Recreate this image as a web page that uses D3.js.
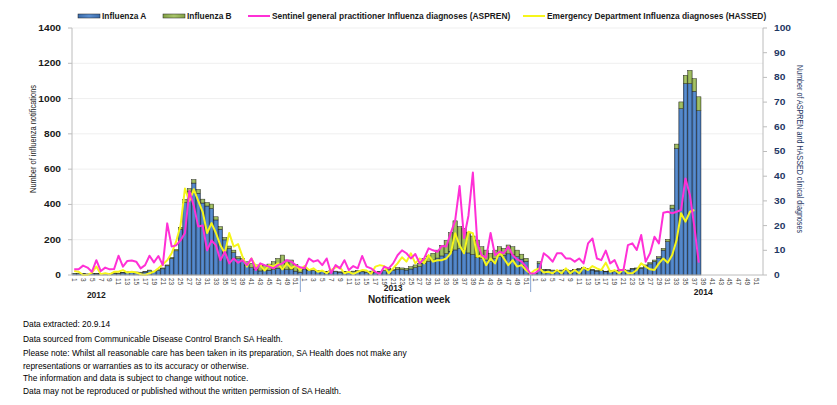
<!DOCTYPE html>
<html>
<head>
<meta charset="utf-8">
<script src="https://cdn.jsdelivr.net/npm/d3@7"></script>
<style>
html, body { margin: 0; padding: 0; background: #fff; }
svg { display: block; font-family: "Liberation Sans", Arial, sans-serif; }
</style>
</head>
<body>
<div id="chart"></div>
<script>
const WIDTH = 837;
const HEIGHT = 405;
const PLOT = { left: 72, right: 763, top: 28, bottom: 275 };

// === DATA ===
const years = ["2012", "2013", "2014"];
const weekTicks = [1, 3, 5, 7, 9, 11, 13, 15, 17, 19, 21, 23, 25, 27, 29, 31, 33, 35, 37, 39, 41, 43, 45, 47, 49, 51];
const leftTicks = [0, 200, 400, 600, 800, 1000, 1200, 1400];
const rightTicks = [0, 10, 20, 30, 40, 50, 60, 70, 80, 90, 100];

// Influenza A notifications by week
const fluA2012 = [8, 7, 6, 5, 7, 6, 8, 7, 8, 10, 9, 12, 15, 13, 14, 13, 17, 24, 19, 26,
    35, 52, 94, 137, 260, 410, 472, 521, 463, 408, 391, 377, 312, 259, 199, 150, 127, 92, 76, 55,
    41, 32, 23, 25, 27, 30, 39, 43, 30, 30, 22, 15];
const fluA2013 = [34, 27, 25, 22, 20, 18, 21, 20, 16, 18, 15, 19, 22, 18, 16, 19, 13, 17, 24, 30,
    26, 33, 30, 28, 34, 42, 48, 66, 76, 85, 96, 108, 121, 135, 142, 149, 142, 125, 116, 98,
    92, 85, 75, 94, 104, 111, 120, 115, 104, 90, 77, 11];
const fluA2014 = [8, 65, 28, 28, 25, 22, 24, 28, 22, 28, 33, 37, 34, 28, 22, 25, 18, 22, 20, 25,
    28, 25, 34, 35, 38, 51, 63, 77, 96, 141, 189, 377, 717, 943, 1085, 1085, 1041, 931];

// Influenza B notifications by week
const fluB2012 = [2, 1, 1, 1, 1, 1, 1, 1, 2, 2, 2, 2, 3, 2, 3, 3, 3, 4, 3, 4,
    5, 5, 6, 8, 10, 18, 18, 20, 22, 22, 20, 25, 18, 15, 14, 14, 14, 12, 18, 20,
    25, 25, 28, 30, 35, 45, 55, 70, 55, 55, 38, 25];
const fluB2013 = [4, 3, 3, 3, 2, 2, 3, 2, 2, 2, 2, 3, 3, 2, 2, 3, 2, 3, 4, 8,
    6, 10, 10, 10, 13, 15, 18, 28, 32, 38, 45, 60, 75, 105, 165, 125, 122, 115, 105, 100,
    68, 56, 48, 47, 56, 40, 50, 45, 37, 28, 18, 4];
const fluB2014 = [2, 10, 4, 4, 3, 3, 4, 4, 3, 4, 5, 5, 4, 4, 3, 3, 3, 3, 3, 3,
    4, 3, 4, 5, 5, 6, 7, 8, 8, 10, 13, 19, 25, 38, 47, 75, 72, 79];

// Sentinel GP influenza diagnoses (ASPREN)
const aspren2012 = [2.3, 2.3, 3.8, 3, 1.3, 6, 1.6, 3, 2.3, 2.4, 7.8, 3.4, 5.7, 5.9, 5.4, 2.7, 4, 7.8, 5.1, 7.7,
    4, 20.9, 11.5, 12, 14, 17, 34, 28, 19.6, 20, 10, 14, 12, 6, 9.4, 4.7, 6.7, 5, 6, 4,
    6.7, 2, 4.7, 4, 3.4, 2.7, 4, 4.7, 6, 5.4, 4, 3.1];
const aspren2013 = [2.7, 6.7, 5.4, 6, 4, 6.7, 0.7, 4, 2.7, 6, 2, 3.6, 2.7, 7.7, 3.4, 2.7, 1.3, 0.4, 3.4, 2.7,
    4.7, 8, 10, 8.8, 6.7, 8.5, 4.7, 6.7, 10.8, 10, 9.4, 11.7, 11.5, 17, 22, 36, 15, 24, 41.5, 13,
    8, 7, 17, 8, 9.4, 8.8, 11.5, 8, 6.3, 5.4, 3.4, 0.5];
const aspren2014 = [0.7, 2, 8.8, 7.4, 5.4, 8.8, 8.8, 6.7, 6.7, 5.4, 6.7, 4.7, 12.8, 14.8, 6.7, 6, 9.9, 4.7, 6, 2,
    2, 12.1, 12.8, 10.1, 16.2, 5.4, 8.8, 15.5, 12.8, 25.2, 25.6, 25, 25.6, 26.3, 39.1, 32.4, 19.6, 5];

// Emergency Department influenza diagnoses (HASSED)
const hassed2012 = [1.6, 1.3, 0, 0, 1, 3.4, 0.3, 0.7, 0.3, 1.3, 1.3, 2, 1, 1.3, 1, 0.3, 0, 0.7, 1.3, 2.7,
    4.3, 6, 8.8, 13.5, 20, 35, 30, 34.7, 30, 25.6, 17, 21, 17, 12, 8.8, 17, 11.5, 12.5, 7.4, 3.4,
    6.7, 3.6, 4, 1.8, 4, 3.4, 4.7, 2.3, 4.7, 2.7, 4, 2];
const hassed2013 = [3.6, 2, 2.7, 1.3, 1.8, 0.7, 2, 3.1, 3.1, 0.7, 1.3, 0.4, 1.3, 2, 1.8, 0.4, 3.4, 4, 3.6, 0.7,
    2.7, 4.7, 7.2, 5.4, 8.8, 4.7, 6.7, 4.7, 8.1, 5.4, 6, 6, 6.7, 8.8, 16.9, 12, 8.8, 17.5, 16.9, 7.4,
    8, 4, 6.7, 4.7, 9.4, 6.7, 4, 6, 3.4, 4, 2, 0.5];
const hassed2014 = [2, 2.7, 1, 1.3, 0.7, 2, 0.7, 2.7, 0.7, 2, 0.7, 3.1, 2, 3.6, 2.7, 2, 5, 1.3, 2, 0.7,
    2.3, 0.7, 0.7, 2, 4.7, 3.4, 2.3, 2, 4.7, 6.7, 5, 8.1, 14.2, 25, 21.6, 25.6, 26.3];

const fluA = [fluA2012, fluA2013, fluA2014];
const fluB = [fluB2012, fluB2013, fluB2014];
const aspren = [aspren2012, aspren2013, aspren2014];
const hassed = [hassed2012, hassed2013, hassed2014];

const footnotes = [
    "Data extracted: 20.9.14",
    "Data sourced from Communicable Disease Control Branch SA Health.",
    "Please note: Whilst all reasonable care has been taken in its preparation, SA Health does not make any",
    "representations or warranties as to its accuracy or otherwise.",
    "The information and data is subject to change without notice.",
    "Data may not be reproduced or published without the written permission of SA Health."
];

// === BUILD ROWS ===
const weekKeys = years.flatMap(y => d3.range(1, 53).map(w => `${y}-${w}`));

const barRows = [];
years.forEach((y, yi) => {
    fluA[yi].forEach((a, w) => {
        barRows.push({ key: `${y}-${w + 1}`, A: a, B: fluB[yi][w] });
    });
});

function seriesPoints(arrs) {
    const pts = [];
    years.forEach((y, yi) => arrs[yi].forEach((v, w) => pts.push({ key: `${y}-${w + 1}`, v })));
    return pts;
}

// === SCALES ===
const x = d3.scaleBand().domain(weekKeys).range([PLOT.left, PLOT.right]).padding(0);
const yL = d3.scaleLinear().domain([0, 1400]).range([PLOT.bottom, PLOT.top]);
const yR = d3.scaleLinear().domain([0, 100]).range([PLOT.bottom, PLOT.top]);
const cx = k => x(k) + x.bandwidth() / 2;

const svg = d3.select("#chart").append("svg")
    .attr("width", WIDTH)
    .attr("height", HEIGHT);

// gradients like the spreadsheet bars
const defs = svg.append("defs");
function grad(id, edge, mid) {
    const g = defs.append("linearGradient").attr("id", id)
        .attr("x1", "0%").attr("x2", "100%").attr("y1", "0%").attr("y2", "0%");
    g.append("stop").attr("offset", "0%").attr("stop-color", edge);
    g.append("stop").attr("offset", "50%").attr("stop-color", mid);
    g.append("stop").attr("offset", "100%").attr("stop-color", edge);
}
grad("gradA", "#3b6cab", "#5b8fd1");
grad("gradB", "#84a246", "#a8c56a");

// gridlines
svg.append("g").selectAll("line")
    .data(leftTicks.slice(1))
    .enter().append("line")
    .attr("x1", PLOT.left).attr("x2", PLOT.right)
    .attr("y1", d => yL(d)).attr("y2", d => yL(d))
    .attr("stroke", "#efefef").attr("stroke-width", 1);

// === BARS ===
const stack = d3.stack().keys(["A", "B"])(barRows);
const fills = { A: "url(#gradA)", B: "url(#gradB)" };

svg.append("g").selectAll("g")
    .data(stack)
    .enter().append("g")
    .attr("fill", d => fills[d.key])
    .selectAll("rect")
    .data(d => d)
    .enter().append("rect")
    .attr("x", d => x(d.data.key))
    .attr("width", x.bandwidth())
    .attr("y", d => yL(d[1]))
    .attr("height", d => yL(d[0]) - yL(d[1]))
    .attr("stroke", "#1c1c1c")
    .attr("stroke-width", 0.45);

// === LINES ===
const line = d3.line()
    .x(d => cx(d.key))
    .y(d => yR(d.v));

svg.append("path")
    .datum(seriesPoints(hassed))
    .attr("d", line)
    .attr("fill", "none")
    .attr("stroke", "#f6f61a")
    .attr("stroke-width", 2)
    .attr("stroke-linejoin", "round");

svg.append("path")
    .datum(seriesPoints(aspren))
    .attr("d", line)
    .attr("fill", "none")
    .attr("stroke", "#ff30d6")
    .attr("stroke-width", 2)
    .attr("stroke-linejoin", "round");

// === AXES ===
const axisColor = "#bcbcbc";

// left
svg.append("line")
    .attr("x1", PLOT.left).attr("x2", PLOT.left)
    .attr("y1", PLOT.top).attr("y2", PLOT.bottom)
    .attr("stroke", axisColor);
const gl = svg.append("g");
gl.selectAll("line").data(leftTicks).enter().append("line")
    .attr("x1", PLOT.left - 4).attr("x2", PLOT.left)
    .attr("y1", d => yL(d)).attr("y2", d => yL(d))
    .attr("stroke", axisColor);
gl.selectAll("text").data(leftTicks).enter().append("text")
    .attr("transform", d => `translate(61,${yL(d)}) scale(1.2,1)`)
    .attr("dy", "0.35em")
    .attr("text-anchor", "end")
    .style("font-size", "8.5px").style("font-weight", "bold")
    .attr("fill", "#1a1a1a")
    .text(d => d);

// right
svg.append("line")
    .attr("x1", PLOT.right).attr("x2", PLOT.right)
    .attr("y1", PLOT.top).attr("y2", PLOT.bottom)
    .attr("stroke", axisColor);
const gr = svg.append("g");
gr.selectAll("line").data(rightTicks).enter().append("line")
    .attr("x1", PLOT.right).attr("x2", PLOT.right + 4)
    .attr("y1", d => yR(d)).attr("y2", d => yR(d))
    .attr("stroke", axisColor);
gr.selectAll("text").data(rightTicks).enter().append("text")
    .attr("transform", d => `translate(774,${yR(d)}) scale(1.2,1)`)
    .attr("dy", "0.35em")
    .style("font-size", "8.5px").style("font-weight", "bold")
    .attr("fill", "#1f3864")
    .text(d => d);

// bottom
svg.append("line")
    .attr("x1", PLOT.left).attr("x2", PLOT.right)
    .attr("y1", PLOT.bottom).attr("y2", PLOT.bottom)
    .attr("stroke", axisColor);

const gx = svg.append("g");
years.forEach(y => {
    gx.selectAll(null).data(weekTicks).enter().append("text")
        .attr("transform", w => `translate(${cx(`${y}-${w}`)},${PLOT.bottom + 3}) rotate(90)`)
        .attr("dy", "0.35em")
        .style("font-size", "6.5px")
        .attr("fill", "#404040")
        .text(w => w);
});

// year separators
gx.selectAll("line.sep")
    .data(years.slice(1))
    .enter().append("line")
    .attr("class", "sep")
    .attr("x1", y => x(`${y}-1`) - 2).attr("x2", y => x(`${y}-1`) - 2)
    .attr("y1", PLOT.bottom).attr("y2", 292)
    .attr("stroke", "#8aa7d2").attr("stroke-width", 1);

// year labels
const yearPos = [["2012", 6, 298], ["2013", 21, 291], ["2014", 39, 295]];
gx.selectAll("text.year")
    .data(yearPos)
    .enter().append("text")
    .attr("class", "year")
    .attr("x", d => cx(`${d[0]}-${d[1]}`))
    .attr("y", d => d[2])
    .attr("text-anchor", "middle")
    .style("font-size", "8.5px").style("font-weight", "bold")
    .attr("fill", "#1a1a1a")
    .text(d => d[0]);

svg.append("text")
    .attr("x", 409).attr("y", 302.5)
    .attr("text-anchor", "middle")
    .style("font-size", "10px").style("font-weight", "bold")
    .attr("fill", "#1a1a1a")
    .text("Notification week");

// axis titles
svg.append("text")
    .attr("transform", "translate(36,139) rotate(-90)")
    .attr("text-anchor", "middle")
    .attr("textLength", 108).attr("lengthAdjust", "spacingAndGlyphs")
    .style("font-size", "9px")
    .attr("fill", "#1a1a1a")
    .text("Number of influenza notifications");

svg.append("text")
    .attr("transform", "translate(797,149) rotate(90)")
    .attr("text-anchor", "middle")
    .attr("textLength", 168).attr("lengthAdjust", "spacingAndGlyphs")
    .style("font-size", "9px")
    .attr("fill", "#1f3864")
    .text("Number of ASPREN and HASSED clinical diagnoses");

// === LEGEND ===
const legend = [
    { type: "rect", fill: "url(#gradA)", x: 78, label: "Influenza A" },
    { type: "rect", fill: "url(#gradB)", x: 163, label: "Influenza B" },
    { type: "line", fill: "#ff30d6", x: 248, label: "Sentinel general practitioner Influenza diagnoses (ASPREN)" },
    { type: "line", fill: "#f6f61a", x: 523, label: "Emergency Department Influenza diagnoses (HASSED)" }
];
const lg = svg.append("g").selectAll("g")
    .data(legend)
    .enter().append("g")
    .attr("transform", d => `translate(${d.x},16)`);
lg.filter(d => d.type === "rect").append("rect")
    .attr("x", 0).attr("y", -2).attr("width", 22).attr("height", 4)
    .attr("fill", d => d.fill).attr("stroke", "#1c1c1c").attr("stroke-width", 0.5);
lg.filter(d => d.type === "line").append("line")
    .attr("x1", 0).attr("x2", 22).attr("y1", 0).attr("y2", 0)
    .attr("stroke", d => d.fill).attr("stroke-width", 2);
lg.append("text")
    .attr("x", 24).attr("dy", "0.35em")
    .style("font-size", "8.4px").style("font-weight", "bold")
    .attr("fill", "#1a1a1a")
    .text(d => d.label);

// === FOOTNOTES ===
const noteY = [327, 342, 356, 369, 381, 394];
svg.append("g").selectAll("text")
    .data(footnotes)
    .enter().append("text")
    .attr("x", 23).attr("y", (d, i) => noteY[i])
    .style("font-size", "8.4px")
    .attr("fill", "#000")
    .text(d => d);
</script>
</body>
</html>
